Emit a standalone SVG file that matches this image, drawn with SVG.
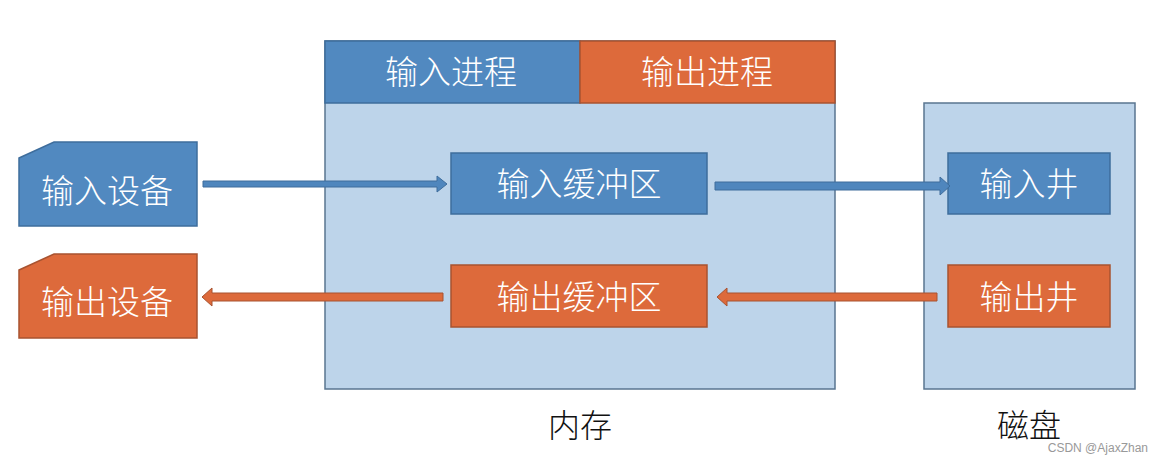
<svg xmlns="http://www.w3.org/2000/svg" width="1161" height="467" viewBox="0 0 1161 467">
<style>
.t{font-family:"Noto Sans CJK SC","Noto Sans",sans-serif;font-size:33px;font-weight:300;fill:#ffffff;text-anchor:middle;dominant-baseline:central}
.cap{font-family:"Noto Sans CJK SC",sans-serif;font-size:32px;font-weight:300;fill:#111;text-anchor:middle;dominant-baseline:central}
.blue{fill:#5189c0;stroke:#3e6d9c;stroke-width:1.5}
.orange{fill:#dd6a3b;stroke:#a85330;stroke-width:1.5}
.bg{fill:#bdd4ea;stroke:#5a7590;stroke-width:1.5}
.ab{fill:#4f86bd;stroke:#3e6d9c;stroke-width:1}
.ao{fill:#dd6a3b;stroke:#a85330;stroke-width:1}
</style>
<rect width="1161" height="467" fill="#ffffff"/>
<g id="memory">
<rect class="bg" x="325" y="41" width="510" height="348"/>
<text class="cap" x="580" y="423">内存</text>
</g>
<g id="disk">
<rect class="bg" x="924" y="103" width="211" height="286"/>
<text class="cap" x="1029" y="423">磁盘</text>
</g>
<g id="input-process">
<rect class="blue" x="325" y="41" width="255" height="62"/>
<text class="t" x="451" y="70">输入进程</text>
</g>
<g id="output-process">
<rect class="orange" x="580" y="41" width="255" height="62"/>
<text class="t" x="707" y="70">输出进程</text>
</g>
<g id="input-device">
<path class="blue" d="M19,158 L54,142 L197,142 L197,226 L19,226 Z"/>
<text class="t" x="107" y="189">输入设备</text>
</g>
<g id="output-device">
<path class="orange" d="M19,270 L54,254 L197,254 L197,338 L19,338 Z"/>
<text class="t" x="107" y="300">输出设备</text>
</g>
<g id="input-buffer">
<rect class="blue" x="451" y="153" width="256" height="61"/>
<text class="t" x="579" y="182">输入缓冲区</text>
</g>
<g id="output-buffer">
<rect class="orange" x="451" y="265" width="256" height="62"/>
<text class="t" x="579" y="295">输出缓冲区</text>
</g>
<g id="input-well">
<rect class="blue" x="948" y="153" width="162" height="61"/>
<text class="t" x="1029" y="182">输入井</text>
</g>
<g id="output-well">
<rect class="orange" x="948" y="265" width="162" height="62"/>
<text class="t" x="1029" y="295">输出井</text>
</g>
<g id="connectors">
<path class="ab" d="M203,181 L437,181 L437,176 L447,184 L437,192 L437,187 L203,187 Z"/>
<path class="ab" d="M715,182 L940,182 L940,177 L950,186 L940,195 L940,190 L715,190 Z"/>
<path class="ao" d="M937,293 L727,293 L727,288 L717,297 L727,306 L727,301 L937,301 Z"/>
<path class="ao" d="M443,293 L212,293 L212,288 L202,297 L212,306 L212,301 L443,301 Z"/>
</g>
<text x="1148" y="452" font-family="Liberation Sans,sans-serif" font-size="12" fill="#999" text-anchor="end">CSDN @AjaxZhan</text>
</svg>
